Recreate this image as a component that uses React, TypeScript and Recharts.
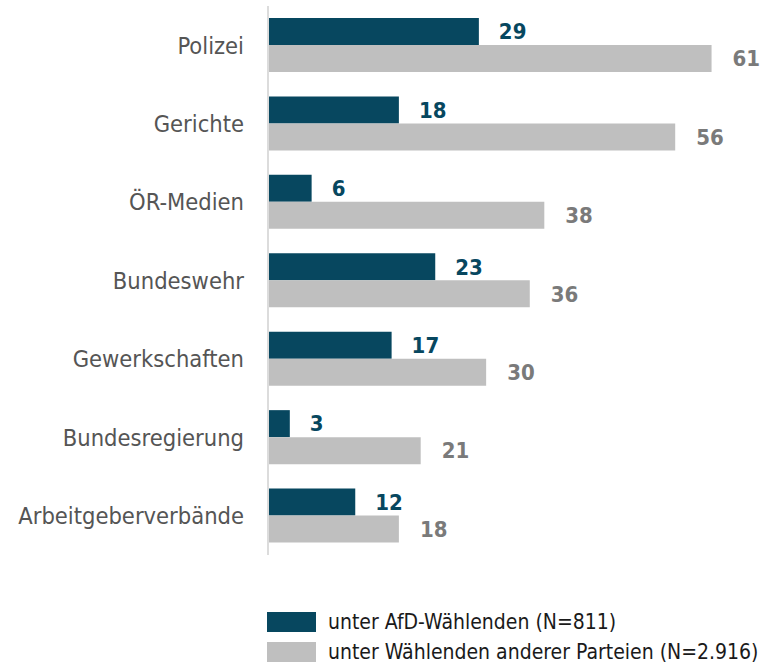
import React from "react";
import { BarChart, Bar, XAxis, YAxis, LabelList } from "recharts";

const categories = [
  "Polizei",
  "Gerichte",
  "ÖR-Medien",
  "Bundeswehr",
  "Gewerkschaften",
  "Bundesregierung",
  "Arbeitgeberverbände",
];
const afdValues = [29, 18, 6, 23, 17, 3, 12];
const otherValues = [61, 56, 38, 36, 30, 21, 18];
const seriesNames = [
  "unter AfD-Wählenden (N=811)",
  "unter Wählenden anderer Parteien (N=2.916)",
];

const DARK = "#07475f";
const GRAY = "#bfbfbf";
const FONT = "'Liberation Sans Narrow', 'DejaVu Sans Condensed', 'Arial Narrow', sans-serif";

const data = categories.map((c, i) => ({ name: c, afd: afdValues[i], other: otherValues[i] }));

const LegendBlock = () => (
  <div style={{ position: "absolute", left: 267, top: 607, fontFamily: FONT }}>
    {[DARK, GRAY].map((col, i) => (
      <div key={i} style={{ display: "flex", alignItems: "center", height: 30 }}>
        <div style={{ width: 49, height: 20, background: col, marginRight: 12 }} />
        <span style={{ fontSize: 21, color: "#1a1a1a", whiteSpace: "nowrap" }}>{seriesNames[i]}</span>
      </div>
    ))}
  </div>
);

export default function App() {
  return (
    <div style={{ position: "absolute", left: 0, top: 0, width: 782, height: 665, background: "#fff" }}>
      <BarChart
        width={782}
        height={665}
        data={data}
        layout="vertical"
        margin={{ top: 6, right: 5, bottom: 110, left: 0 }}
        barGap={0}
      >
        <XAxis type="number" domain={[0, 70]} hide />
        <YAxis
          type="category"
          dataKey="name"
          width={268}
          tickLine={false}
          tickSize={0}
          tickMargin={24}
          axisLine={{ stroke: "#dcdcdc", strokeWidth: 2 }}
          tick={{ fill: "#555555", fontSize: 23.5, fontFamily: FONT }}
        />
        <Bar dataKey="afd" fill={DARK} barSize={27} isAnimationActive={false}>
          <LabelList
            dataKey="afd"
            position="right"
            offset={20}
            style={{ fill: DARK, fontSize: 22, fontWeight: 700, fontFamily: FONT }}
          />
        </Bar>
        <Bar dataKey="other" fill={GRAY} barSize={27} isAnimationActive={false}>
          <LabelList
            dataKey="other"
            position="right"
            offset={21}
            style={{ fill: "#7a7a7a", fontSize: 22, fontWeight: 700, fontFamily: FONT }}
          />
        </Bar>
      </BarChart>
      <LegendBlock />
    </div>
  );
}
